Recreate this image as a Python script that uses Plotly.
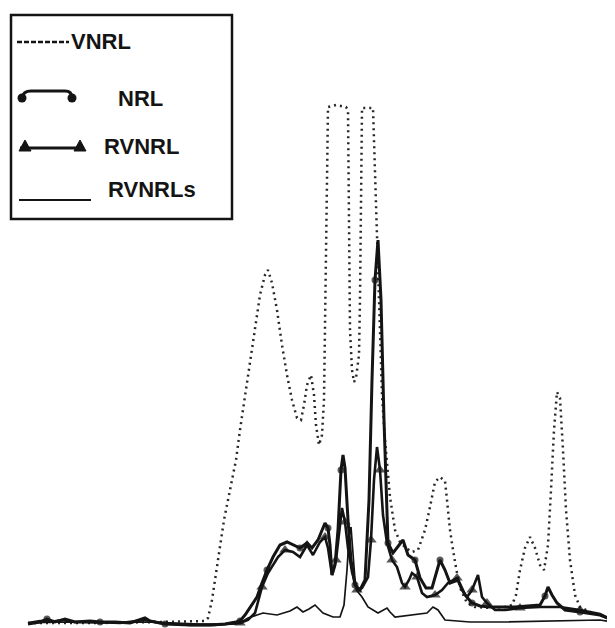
import plotly.graph_objects as go

# ---------------- data (x = channel position, y = signal height) ----------------
vnrl_x = [28, 100, 160, 205, 208, 212, 218, 224, 230, 236, 240, 245, 250, 255, 260, 265, 268,
          272, 277, 282, 287, 292, 297, 301, 304, 307, 311, 314, 316, 319, 322, 324, 325, 326,
          327, 328, 336, 346, 348, 349, 350, 352, 354, 356, 359, 360, 361, 362, 373, 375, 377,
          380, 382, 385, 390, 395, 400, 406, 412, 418, 425, 430, 435, 440, 445, 447, 450, 453,
          457, 461, 467, 475, 490, 505, 512, 516, 520, 525, 530, 535, 540, 544, 548, 551, 554,
          557, 560, 563, 566, 570, 575, 580, 590, 600, 612]
vnrl_y = [2, 2, 3, 4, 7, 25, 65, 105, 135, 165, 195, 230, 265, 300, 330, 350, 355,
          342, 315, 280, 250, 225, 207, 205, 220, 240, 250, 230, 200, 180, 190, 225, 295, 375,
          455, 518, 520, 518, 515, 375, 295, 255, 243, 247, 270, 325, 425, 517, 517, 455, 392,
          295, 230, 185, 128, 95, 83, 77, 73, 75, 95, 118, 143, 148, 144, 125, 95, 75,
          52, 35, 22, 18, 17, 18, 20, 30, 55, 77, 88, 77, 60, 55, 80, 135, 195,
          233, 227, 175, 115, 65, 30, 18, 13, 10, 7]

nrl_x = [28, 40, 47, 55, 65, 75, 90, 100, 115, 130, 145, 150, 165, 190, 210, 225, 236, 240,
         245, 250, 257, 262, 267, 273, 280, 287, 293, 300, 307, 312, 318, 325, 328, 330, 332,
         335, 338, 341, 343, 345, 348, 351, 355, 360, 365, 369, 372, 375, 378, 381, 384, 386,
         388, 393, 398, 403, 408, 415, 420, 426, 432, 436, 440, 445, 450, 458, 465, 472, 480,
         490, 515, 540, 545, 548, 552, 557, 565, 580, 600, 612]
nrl_y = [1, 3, 6, 3, 6, 3, 4, 3, 3, 2, 7, 4, 1, 0, 0, 1, 3, 4,
         10, 17, 28, 42, 55, 68, 80, 83, 80, 77, 82, 77, 85, 102, 97, 80, 50,
         60, 95, 155, 170, 157, 105, 65, 40, 35, 45, 125, 245, 345, 385, 325, 205, 135,
         82, 72, 78, 85, 70, 65, 47, 37, 37, 50, 65, 55, 42, 45, 30, 22, 19,
         18, 18, 20, 29, 38, 30, 22, 15, 13, 10, 5]

rvnrl_x = [28, 40, 50, 62, 75, 95, 120, 145, 160, 190, 215, 232, 240, 248, 255, 262, 268, 278,
           285, 293, 300, 307, 313, 320, 325, 328, 332, 336, 339, 342, 345, 348, 352, 357, 362,
           368, 371, 374, 377, 380, 383, 387, 392, 397, 402, 405, 409, 412, 417, 422, 427, 435,
           442, 448, 457, 462, 467, 472, 478, 482, 487, 495, 505, 520, 540, 560, 580, 600, 612]
rvnrl_y = [2, 4, 3, 5, 3, 3, 2, 5, 2, 0, 0, 1, 2, 5, 12, 38, 52, 68,
           75, 73, 68, 80, 70, 83, 88, 77, 50, 65, 90, 117, 103, 77, 53, 35, 37,
           48, 85, 145, 178, 155, 110, 82, 65, 58, 42, 38, 45, 52, 48, 32, 28, 30,
           35, 42, 47, 35, 28, 35, 50, 28, 22, 15, 15, 17, 18, 18, 15, 11, 5]

rvnrls_x = [28, 60, 100, 150, 200, 235, 240, 248, 257, 263, 277, 290, 297, 303, 309, 315, 323,
            333, 340, 344, 347, 349, 351, 353, 355, 358, 362, 368, 378, 387, 390, 395, 410, 427,
            433, 438, 445, 470, 500, 550, 580, 600, 612]
rvnrls_y = [2, 3, 2, 3, 1, 1, 2, 7, 10, 12, 10, 14, 18, 13, 16, 20, 12,
            8, 8, 20, 55, 88, 98, 75, 45, 33, 28, 18, 12, 17, 13, 8, 10, 12,
            18, 15, 5, 3, 3, 4, 5, 5, 3]

legend_labels = ["VNRL", "NRL", "RVNRL", "RVNRLs"]

# ---------------- figure ----------------
# The page body has an 8px default margin; the figure is sized/ranged so that the
# x coordinate equals the screen column and the zero line sits near the bottom edge.
PAGE_MARGIN = 8
W, H = 615 - PAGE_MARGIN, 628 - PAGE_MARGIN
BASE = 625  # screen row of zero signal
INK = "#141414"

fig = go.Figure()

fig.add_trace(go.Scatter(x=vnrl_x, y=vnrl_y, mode="lines", name=legend_labels[0],
                         line=dict(color="#262626", width=2.5, dash="2px,4px")))

fig.add_trace(go.Scatter(x=rvnrls_x, y=rvnrls_y, mode="lines", name=legend_labels[3],
                         line=dict(color=INK, width=1.7)))

tri_sizes = [10 if (i % 3 == 0 and 12 <= i <= 66) else 0 for i in range(len(rvnrl_x))]
fig.add_trace(go.Scatter(x=rvnrl_x, y=rvnrl_y, mode="lines+markers", name=legend_labels[2],
                         line=dict(color=INK, width=2.6),
                         marker=dict(symbol="triangle-up", size=tri_sizes, color=INK,
                                     line=dict(width=0))))

dot_sizes = [7 if (i % 5 == 2) else 0 for i in range(len(nrl_x))]
fig.add_trace(go.Scatter(x=nrl_x, y=nrl_y, mode="lines+markers", name=legend_labels[1],
                         line=dict(color=INK, width=3),
                         marker=dict(symbol="circle", size=dot_sizes, color=INK,
                                     line=dict(width=0))))


def Y(py):
    return BASE - py


shapes = []
# legend box
shapes.append(dict(type="rect", xref="x", yref="y", x0=11, x1=232, y0=Y(15), y1=Y(219),
                   line=dict(color=INK, width=2.5)))
# VNRL sample (dashed)
shapes.append(dict(type="line", xref="x", yref="y", x0=17, x1=69, y0=Y(42), y1=Y(42),
                   line=dict(color=INK, width=2.5, dash="5px,2px")))
# NRL sample (hooked line with dots)
shapes.append(dict(type="path", xref="x", yref="y",
                   path=f"M 22 {Y(98)} Q 23 {Y(91)} 31 {Y(91)} L 65 {Y(91)} Q 72 {Y(91)} 72 {Y(98)}",
                   line=dict(color=INK, width=2.8)))
for cx in (22, 72):
    shapes.append(dict(type="circle", xref="x", yref="y", x0=cx - 4.5, x1=cx + 4.5,
                       y0=Y(98) - 4.5, y1=Y(98) + 4.5, fillcolor=INK, line=dict(color=INK, width=0)))
# RVNRL sample (line with triangles)
shapes.append(dict(type="line", xref="x", yref="y", x0=20, x1=84, y0=Y(148), y1=Y(148),
                   line=dict(color=INK, width=3)))
for cx in (25, 80):
    shapes.append(dict(type="path", xref="x", yref="y",
                       path=f"M {cx-6} {Y(151)} L {cx} {Y(140)} L {cx+6} {Y(151)} Z",
                       fillcolor=INK, line=dict(color=INK, width=1)))
# RVNRLs sample (plain line)
shapes.append(dict(type="line", xref="x", yref="y", x0=19, x1=91, y0=Y(200), y1=Y(200),
                   line=dict(color=INK, width=2)))

ann_font = dict(family="Liberation Sans, Arial, sans-serif", size=22, color=INK)
annotations = [
    dict(x=69, y=Y(41), text="<b>" + legend_labels[0] + "</b>"),
    dict(x=116, y=Y(98), text="<b>" + legend_labels[1] + "</b>"),
    dict(x=102, y=Y(146), text="<b>" + legend_labels[2] + "</b>"),
    dict(x=106, y=Y(189), text="<b>" + legend_labels[3] + "</b>"),
]
for a in annotations:
    a.update(xref="x", yref="y", xanchor="left", yanchor="middle", showarrow=False, font=ann_font)

fig.update_layout(
    width=W, height=H,
    margin=dict(l=0, r=0, t=0, b=0),
    paper_bgcolor="white", plot_bgcolor="white",
    showlegend=False,
    xaxis=dict(range=[PAGE_MARGIN, 615], visible=False, fixedrange=True),
    yaxis=dict(range=[BASE - 628, BASE - PAGE_MARGIN], visible=False, fixedrange=True),
    shapes=shapes, annotations=annotations,
)

fig.write_html("out.html")
